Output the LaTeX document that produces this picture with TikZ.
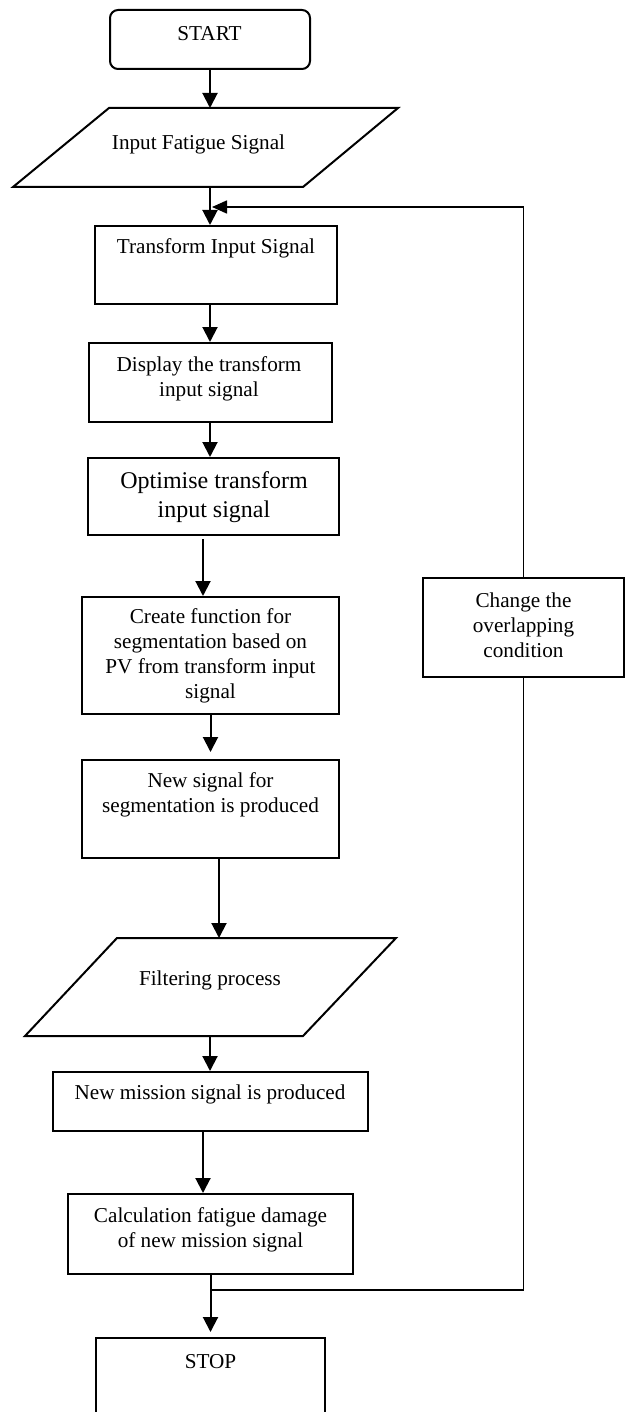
\documentclass[tikz,border=0pt]{standalone}
\usepackage{fontspec}
\setmainfont{Liberation Serif}
\usetikzlibrary{arrows.meta}
\begin{document}
\begin{tikzpicture}[x=1pt,y=-1pt,
  box/.style={draw,line width=2pt,inner sep=0pt},
  txt/.style={inner sep=0pt,align=center,font=\fontsize{21.2}{25}\selectfont},
  bigtxt/.style={txt,font=\fontsize{24}{29}\selectfont},
  flow/.style={line width=2pt,-{Triangle[length=15pt,width=15pt]}},
  back/.style={line width=1.6pt}]
\clip (0,0) rectangle (625,1412);
\node[box,rounded corners=8pt,minimum width=200pt,minimum height=59pt] (start) at (210,39.5) {};
\node[txt] (starttxt) at (209.5,34) {START};
\draw[line width=2pt] (109,108) -- (398,108) -- (303,187) -- (13,187) -- cycle;
\coordinate (inptop) at (210,108);
\coordinate (inpbot) at (210,187);
\node[txt] (inptxt) at (198.5,144) {Input Fatigue Signal};
\node[box,minimum width=242pt,minimum height=78pt] (trans) at (216,265) {};
\node[txt] (transtxt) at (216,248) {Transform Input Signal};
\node[box,minimum width=243pt,minimum height=79pt] (disp) at (210,382.5) {};
\node[txt] (disptxt) at (209,378.5) {Display the transform\\input signal};
\node[box,minimum width=251pt,minimum height=77pt] (opt) at (213.5,496.5) {};
\node[bigtxt] (opttxt) at (214,497.5) {Optimise transform\\input signal};
\node[box,minimum width=257pt,minimum height=117pt] (create) at (210.5,655.5) {};
\node[txt] (createtxt) at (210.5,655.5) {Create function for\\segmentation based on\\PV from transform input\\signal};
\node[box,minimum width=257pt,minimum height=98pt] (newseg) at (210.5,809) {};
\node[txt] (newsegtxt) at (210.5,794.5) {New signal for\\segmentation is produced};
\draw[line width=2pt] (117,938) -- (396,938) -- (303,1036) -- (25,1036) -- cycle;
\coordinate (filttop) at (219,938);
\coordinate (filtbot) at (210,1036);
\node[txt] (filttxt) at (210,980) {Filtering process};
\node[box,minimum width=315pt,minimum height=59pt] (mission) at (210.5,1101.5) {};
\node[txt] (missiontxt) at (210,1094) {New mission signal is produced};
\node[box,minimum width=285pt,minimum height=80pt] (calc) at (210.5,1234) {};
\node[txt] (calctxt) at (210.5,1229.5) {Calculation fatigue damage\\of new mission signal};
\node[box,minimum width=229pt,minimum height=100pt] (stop) at (210.5,1388) {};
\node[txt] (stoptxt) at (210.5,1362) {STOP};
\node[box,minimum width=201pt,minimum height=99pt] (change) at (523.5,627.5) {};
\node[txt] (changetxt) at (523.5,625.5) {Change the\\overlapping\\condition};
\coordinate (jn) at (210.5,1290);
\coordinate (ret) at (212,207);
\draw[flow] (start.south) -- (inptop);
\draw[flow] (inpbot) -- (inpbot |- trans.north);
\draw[flow] (trans.south -| disp.north) -- (disp.north);
\draw[flow] (disp.south) -- (disp.south |- opt.north);
\draw[flow] ([xshift=-10.5pt,yshift=-3pt]opt.south) -- ([xshift=-7.5pt]create.north);
\draw[flow,shorten >=7pt] (create.south) -- (newseg.north);
\draw[flow] ([xshift=8.5pt]newseg.south) -- (filttop);
\draw[flow] (filtbot) -- (filtbot |- mission.north);
\draw[flow] ([xshift=-7.5pt]mission.south) -- ([xshift=-7.5pt]calc.north);
\draw[flow,shorten >=5pt] (calc.south) -- (stop.north);
\draw[back] (jn) -| (change.south);
\draw[back,-{Triangle[length=15pt,width=13pt]}] (change.north) |- (ret);
\end{tikzpicture}
\end{document}
